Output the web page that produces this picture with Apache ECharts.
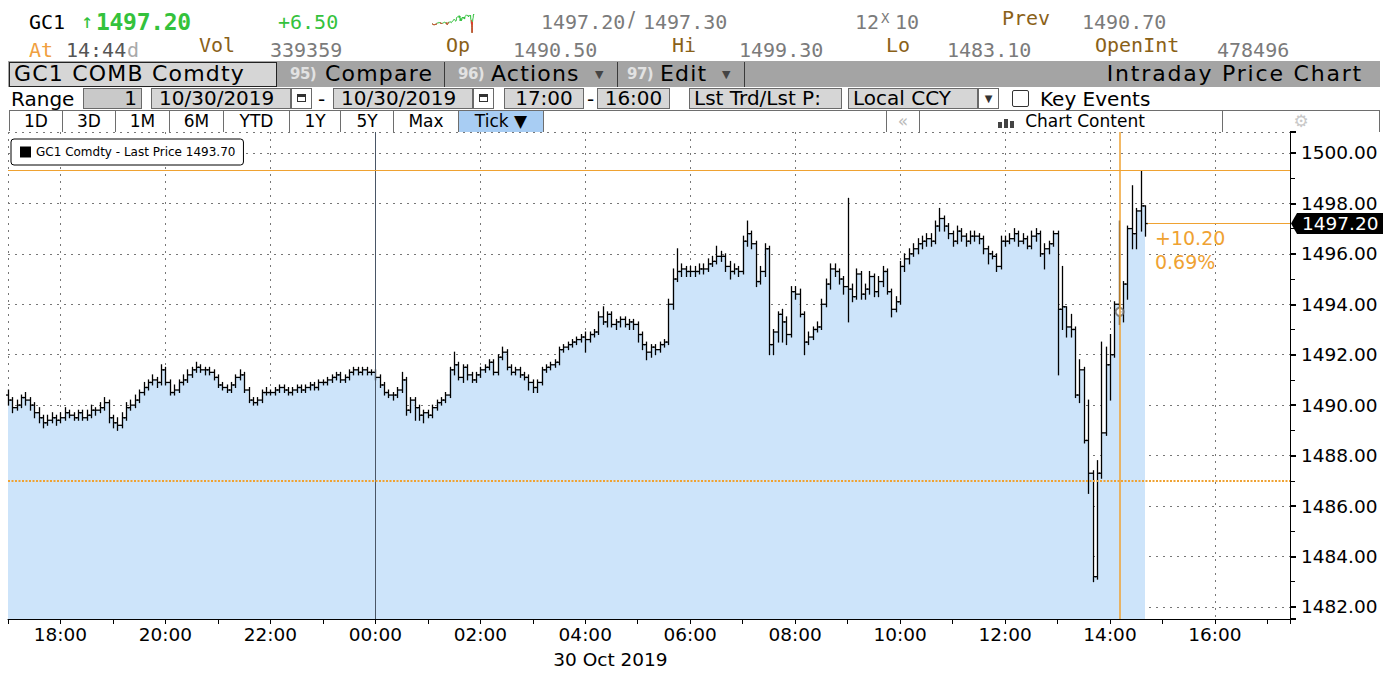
<!DOCTYPE html>
<html><head><meta charset="utf-8">
<script src="https://cdn.jsdelivr.net/npm/echarts@6/dist/echarts.min.js"></script>
<style>
html,body{margin:0;padding:0;background:#fff;width:1390px;height:673px;overflow:hidden;}
#chart{position:absolute;left:0;top:0;width:1390px;height:673px;}
#hdr{position:absolute;left:0;top:0;width:1390px;height:132px;pointer-events:none;}
.t{position:absolute;white-space:nowrap;line-height:1;}
.m{font-family:'DejaVu Sans Mono',monospace;font-size:20px;letter-spacing:0;}
.s{font-family:'DejaVu Sans',sans-serif;}
.g{color:#7b7b7b}
.b{color:#8a6118}
.gr{color:#34c23c}
.r3{font-family:'DejaVu Sans',sans-serif;font-size:22px;letter-spacing:1.2px;top:63px;color:#000;}
.num{font-family:'DejaVu Sans',sans-serif;font-size:15px;font-weight:bold;letter-spacing:-0.5px;color:#e2e2e2;top:67px;}
.sep{position:absolute;top:62px;width:1px;height:25px;background:#3a3a3a;}
.bx{position:absolute;top:88px;height:21px;box-sizing:border-box;border:1px solid #6a6a6a;background:#d6d6d6;font-family:'DejaVu Sans',sans-serif;font-size:20px;line-height:19px;color:#000;white-space:nowrap;}
.cal{position:absolute;top:88px;height:21px;width:21px;box-sizing:border-box;border:1px solid #6a6a6a;background:#fff;}
.cal i{position:absolute;left:5px;top:5px;width:9px;height:8px;border:1px solid #333;border-top-width:3px;box-sizing:border-box;}
.r4{font-family:'DejaVu Sans',sans-serif;font-size:20px;top:89px;color:#000;}
.tab{position:absolute;top:0;height:21px;box-sizing:border-box;border-right:1px solid #6e6e6e;font-family:'DejaVu Sans',sans-serif;font-size:17px;line-height:21px;text-align:center;color:#000;}
</style>
</head>
<body>
<div id="chart"></div>
<div id="hdr">
  <!-- row 1 -->
  <div class="t m" style="left:29px;top:12px;color:#000">GC1</div>
  <div class="t m gr" style="left:81px;top:11px;font-size:20px">↑</div>
  <div class="t m gr" style="left:96px;top:11px;font-size:23px;font-weight:bold;letter-spacing:-0.3px">1497.20</div>
  <div class="t m gr" style="left:278px;top:12px">+6.50</div>
  <div class="t m g" style="left:541px;top:12px">1497.20</div>
  <div class="t s g" style="left:628px;top:10px;font-size:21px">/</div>
  <div class="t m g" style="left:643px;top:12px">1497.30</div>
  <div class="t m g" style="left:855px;top:12px">12</div>
  <div class="t m g" style="left:881px;top:11px;font-size:14px">X</div>
  <div class="t m g" style="left:895px;top:12px">10</div>
  <div class="t m b" style="left:1002px;top:8px">Prev</div>
  <div class="t m g" style="left:1082px;top:12px">1490.70</div>
  <!-- row 2 -->
  <div class="t m" style="left:29px;top:40px;color:#f0a040">At</div>
  <div class="t m" style="left:66px;top:40px;color:#555">14:44</div>
  <div class="t m" style="left:127px;top:40px;color:#aaa">d</div>
  <div class="t m b" style="left:199px;top:35px">Vol</div>
  <div class="t m g" style="left:270px;top:40px">339359</div>
  <div class="t m b" style="left:446px;top:35px">Op</div>
  <div class="t m g" style="left:513px;top:40px">1490.50</div>
  <div class="t m b" style="left:672px;top:35px">Hi</div>
  <div class="t m g" style="left:739px;top:40px">1499.30</div>
  <div class="t m b" style="left:886px;top:35px">Lo</div>
  <div class="t m g" style="left:947px;top:40px">1483.10</div>
  <div class="t m b" style="left:1095px;top:35px">OpenInt</div>
  <div class="t m g" style="left:1217px;top:40px">478496</div>
  <!-- row 3 -->
  <div style="position:absolute;left:8px;top:61px;width:1372px;height:26px;background:#a4a4a4"></div>
  <div style="position:absolute;left:9px;top:62px;width:268px;height:25px;box-sizing:border-box;background:#d6d6d6;border:1px solid #222"></div>
  <div class="t r3" style="left:14px">GC1 COMB Comdty</div>
  <div class="t num" style="left:290px">95)</div>
  <div class="t r3" style="left:325px">Compare</div>
  <div class="sep" style="left:444px"></div>
  <div class="t num" style="left:458px">96)</div>
  <div class="t r3" style="left:491px">Actions</div>
  <div class="t s" style="left:595px;top:69px;font-size:11px;color:#444">▼</div>
  <div class="sep" style="left:617px"></div>
  <div class="t num" style="left:627px">97)</div>
  <div class="t r3" style="left:660px">Edit</div>
  <div class="t s" style="left:722px;top:69px;font-size:11px;color:#444">▼</div>
  <div class="sep" style="left:744px"></div>
  <div class="t r3" style="right:27px;letter-spacing:1.8px">Intraday Price Chart</div>
  <!-- row 4 -->
  <div class="t r4" style="left:11px">Range</div>
  <div class="bx" style="left:83px;width:59px;text-align:right;padding-right:4px;background:#c9c9c9">1</div>
  <div class="bx" style="left:151px;width:140px;padding-left:7px">10/30/2019</div>
  <div class="cal" style="left:291px"><i></i></div>
  <div class="t r4" style="left:318px">-</div>
  <div class="bx" style="left:333px;width:140px;padding-left:7px">10/30/2019</div>
  <div class="cal" style="left:473px"><i></i></div>
  <div class="bx" style="left:504px;width:80px;text-align:center">17:00</div>
  <div class="t r4" style="left:587px">-</div>
  <div class="bx" style="left:597px;width:73px;text-align:center">16:00</div>
  <div class="bx" style="left:689px;width:153px;padding-left:4px">Lst Trd/Lst P:</div>
  <div class="bx" style="left:848px;width:130px;padding-left:4px">Local CCY</div>
  <div class="bx" style="left:978px;width:21px;background:#fff;font-size:10px;text-align:center;color:#333">▼</div>
  <div style="position:absolute;left:1012px;top:90px;width:17px;height:17px;box-sizing:border-box;border:1.5px solid #333;border-radius:2px;background:#fff"></div>
  <div class="t r4" style="left:1040px">Key Events</div>
  <!-- row 5 -->
  <div style="position:absolute;left:9px;top:110px;width:1371px;height:21px;box-sizing:border-box;border-top:1px solid #6e6e6e;border-left:1px solid #6e6e6e;background:#fff">
    <div class="tab" style="left:0;width:53px">1D</div>
    <div class="tab" style="left:53px;width:53px">3D</div>
    <div class="tab" style="left:106px;width:54px">1M</div>
    <div class="tab" style="left:160px;width:54px">6M</div>
    <div class="tab" style="left:214px;width:66px">YTD</div>
    <div class="tab" style="left:280px;width:51px">1Y</div>
    <div class="tab" style="left:331px;width:53px">5Y</div>
    <div class="tab" style="left:384px;width:65px">Max</div>
    <div class="tab" style="left:449px;width:85px;background:#a8cdf3">Tick ▼</div>
    <div class="tab" style="left:534px;width:343px"></div>
    <div class="tab" style="left:877px;width:33px;color:#bbb">«</div>
    <div class="tab" style="left:910px;width:303px"><span style="display:inline-block;width:20px;height:14px;position:relative;vertical-align:-1px;margin-right:8px"><b style="position:absolute;left:1px;bottom:0;width:4px;height:6px;background:#444"></b><b style="position:absolute;left:7px;bottom:0;width:4px;height:9px;background:#444"></b><b style="position:absolute;left:13px;bottom:0;width:4px;height:7px;background:#444"></b></span>Chart Content</div>
    <div class="tab" style="left:1213px;width:157px;color:#c8c8c8">⚙</div>
  </div>
</div>
<script>
// ---------------- data ----------------
const startClock = '17:00';          // first bar, 29 Oct 2019
const barMinutes = 5;
const open = [
1490.4,1490.2,1489.9,1490.0,1490.3,1490.2,1490.0,1489.7,1489.5,1489.3,1489.4,1489.5,
1489.4,1489.5,1489.7,1489.6,1489.5,1489.7,1489.5,1489.6,1489.8,1489.8,1489.9,1490.1,
1489.5,1489.3,1489.2,1489.5,1489.9,1490.0,1490.2,1490.5,1490.7,1490.9,1491.0,1490.9,
1491.4,1490.9,1490.5,1490.6,1490.9,1491.0,1491.2,1491.4,1491.5,1491.4,1491.4,1491.3,
1491.1,1490.8,1490.7,1490.6,1490.8,1491.1,1491.2,1490.6,1490.2,1490.1,1490.2,1490.5,
1490.5,1490.5,1490.6,1490.7,1490.6,1490.5,1490.6,1490.7,1490.6,1490.7,1490.8,1490.7,
1490.9,1490.9,1491.0,1491.1,1491.2,1491.0,1491.1,1491.3,1491.4,1491.3,1491.4,1491.3,
1491.3,1491.1,1490.8,1490.5,1490.4,1490.4,1490.6,1491.0,1489.8,1490.2,1489.9,1489.6,
1489.7,1489.6,1489.9,1490.1,1490.2,1490.4,1491.4,1491.6,1491.1,1491.5,1491.2,1491.0,
1491.2,1491.4,1491.5,1491.7,1491.3,1491.9,1492.1,1491.5,1491.3,1491.4,1491.2,1491.1,
1490.9,1490.7,1490.9,1491.4,1491.5,1491.6,1491.7,1492.2,1492.3,1492.4,1492.5,1492.6,
1492.7,1492.6,1492.8,1492.9,1493.5,1493.3,1493.6,1493.2,1493.3,1493.4,1493.2,1493.3,
1493.2,1492.8,1492.4,1492.1,1492.3,1492.2,1492.4,1492.5,1494.0,1495.0,1495.3,1495.4,
1495.3,1495.3,1495.3,1495.4,1495.4,1495.6,1495.7,1495.9,1495.9,1495.5,1495.3,1495.4,
1495.3,1496.5,1496.8,1496.4,1494.9,1495.3,1496.2,1492.4,1492.9,1493.6,1493.3,1492.8,
1494.5,1494.4,1493.6,1492.5,1492.7,1493.0,1493.1,1494.0,1494.8,1495.4,1495.3,1495.0,
1494.7,1494.6,1494.3,1495.2,1494.4,1494.6,1495.1,1494.5,1494.9,1495.3,1494.5,1493.8,
1494.1,1495.5,1495.8,1496.0,1496.2,1496.4,1496.5,1496.6,1496.5,1497.1,1497.4,1497.1,
1496.8,1496.5,1496.9,1496.7,1496.5,1496.7,1496.7,1496.6,1496.2,1496.0,1495.9,1495.5,
1496.5,1496.5,1496.6,1496.8,1496.5,1496.6,1496.3,1496.7,1496.8,1496.0,1496.2,1496.4,
1496.8,1493.8,1493.9,1493.1,1493.0,1490.4,1491.4,1488.6,1487.3,1483.2,1487.3,1488.9,
1491.6,1492.0,1494.0,1493.7,1494.8,1497.0,1496.8,1497.7,1497.9
];
const high = [
1490.6,1490.3,1490.2,1490.4,1490.5,1490.3,1490.1,1489.9,1489.6,1489.6,1489.7,1489.6,
1489.7,1489.9,1489.8,1489.7,1489.8,1489.8,1489.8,1490.0,1489.9,1490.1,1490.3,1490.2,
1489.6,1489.5,1489.7,1490.1,1490.2,1490.4,1490.6,1490.9,1491.0,1491.2,1491.1,1491.6,
1491.5,1491.0,1490.8,1491.0,1491.2,1491.4,1491.5,1491.7,1491.6,1491.5,1491.5,1491.4,
1491.2,1490.9,1490.8,1490.9,1491.2,1491.4,1491.3,1490.7,1490.3,1490.3,1490.6,1490.7,
1490.6,1490.7,1490.8,1490.8,1490.7,1490.7,1490.8,1490.8,1490.8,1490.9,1490.9,1491.0,
1491.0,1491.1,1491.2,1491.3,1491.3,1491.2,1491.4,1491.5,1491.5,1491.5,1491.5,1491.4,
1491.4,1491.2,1490.9,1490.6,1490.5,1490.7,1491.3,1491.1,1490.3,1490.3,1490.0,1489.8,
1489.8,1490.0,1490.2,1490.3,1490.5,1491.5,1492.1,1491.7,1491.6,1491.6,1491.3,1491.3,
1491.5,1491.6,1491.8,1491.8,1492.0,1492.3,1492.2,1491.6,1491.5,1491.5,1491.3,1491.2,
1491.0,1491.0,1491.5,1491.6,1491.7,1491.8,1492.3,1492.4,1492.5,1492.6,1492.7,1492.8,
1492.9,1492.9,1493.0,1493.7,1493.9,1493.7,1493.7,1493.4,1493.5,1493.5,1493.4,1493.4,
1493.3,1492.9,1492.5,1492.4,1492.4,1492.5,1492.6,1494.2,1495.4,1496.2,1495.6,1495.5,
1495.5,1495.5,1495.6,1495.6,1495.8,1495.9,1496.3,1496.1,1496.0,1495.7,1495.6,1495.5,
1496.7,1497.3,1496.9,1496.5,1495.5,1496.4,1496.3,1493.0,1493.7,1493.8,1493.5,1494.7,
1494.7,1494.6,1493.7,1492.9,1493.1,1493.3,1494.2,1495.0,1495.6,1495.6,1495.4,1495.1,
1498.2,1494.8,1495.4,1495.3,1494.8,1495.3,1495.2,1495.1,1495.5,1495.4,1494.6,1494.3,
1495.7,1496.0,1496.2,1496.4,1496.6,1496.7,1496.8,1496.8,1497.3,1497.8,1497.5,1497.2,
1496.9,1497.1,1497.0,1496.8,1496.9,1496.9,1496.8,1496.7,1496.3,1496.1,1496.0,1496.7,
1496.7,1496.8,1497.0,1496.9,1496.8,1496.7,1496.9,1497.0,1496.9,1496.4,1496.5,1496.9,
1496.9,1495.5,1493.9,1493.6,1493.1,1491.8,1491.5,1490.2,1487.4,1487.8,1492.5,1492.3,
1492.8,1494.1,1497.3,1494.9,1497.1,1498.7,1497.8,1499.3,1497.9
];
const low = [
1490.0,1489.7,1489.8,1489.9,1490.0,1489.8,1489.5,1489.3,1489.1,1489.2,1489.3,1489.2,
1489.3,1489.4,1489.5,1489.4,1489.4,1489.4,1489.4,1489.5,1489.6,1489.7,1489.8,1489.3,
1489.1,1489.0,1489.1,1489.4,1489.8,1489.9,1490.1,1490.4,1490.6,1490.8,1490.7,1490.8,
1490.8,1490.4,1490.4,1490.5,1490.8,1490.9,1491.1,1491.3,1491.3,1491.2,1491.2,1491.0,
1490.7,1490.6,1490.5,1490.5,1490.7,1491.0,1490.5,1490.1,1490.0,1490.0,1490.1,1490.4,
1490.4,1490.4,1490.5,1490.5,1490.4,1490.4,1490.5,1490.5,1490.5,1490.6,1490.6,1490.6,
1490.8,1490.8,1490.9,1491.0,1490.9,1490.9,1491.0,1491.2,1491.2,1491.2,1491.2,1491.2,
1491.0,1490.7,1490.4,1490.3,1490.2,1490.3,1490.5,1489.6,1489.7,1489.4,1489.4,1489.3,
1489.5,1489.5,1489.8,1490.0,1490.1,1490.3,1491.2,1491.0,1490.9,1491.0,1490.9,1490.9,
1491.1,1491.3,1491.4,1491.2,1491.2,1491.8,1491.4,1491.2,1491.2,1491.1,1491.0,1490.6,
1490.5,1490.5,1490.8,1491.3,1491.4,1491.5,1491.6,1492.1,1492.2,1492.3,1492.4,1492.5,
1492.1,1492.5,1492.7,1492.8,1493.2,1493.1,1493.1,1493.0,1493.1,1493.1,1493.0,1493.0,
1492.5,1492.2,1491.8,1491.9,1492.0,1492.1,1492.3,1492.4,1493.8,1494.9,1495.1,1495.1,
1495.1,1495.1,1495.2,1495.2,1495.3,1495.5,1495.6,1495.7,1495.3,1495.0,1495.2,1495.1,
1495.2,1496.3,1496.2,1494.7,1494.8,1495.1,1492.0,1492.0,1492.5,1492.5,1492.4,1492.7,
1494.2,1493.5,1492.0,1492.4,1492.6,1492.9,1493.0,1493.9,1494.6,1495.1,1494.8,1494.4,
1493.3,1494.1,1494.2,1494.2,1494.2,1494.4,1494.3,1494.3,1494.7,1494.4,1493.5,1493.7,
1494.0,1495.3,1495.6,1495.9,1496.0,1496.2,1496.3,1496.3,1496.4,1496.9,1496.9,1496.6,
1496.3,1496.4,1496.5,1496.3,1496.4,1496.5,1496.4,1496.0,1495.6,1495.8,1495.3,1495.4,
1496.3,1496.4,1496.5,1496.3,1496.4,1496.2,1496.2,1496.5,1495.9,1495.4,1496.0,1496.3,
1491.2,1493.0,1492.7,1492.7,1490.3,1490.1,1488.5,1486.5,1483.0,1483.1,1487.1,1488.8,
1490.2,1491.9,1493.2,1493.3,1494.2,1496.2,1496.2,1496.9,1496.7
];
const close = [
1490.2,1489.9,1490.0,1490.3,1490.2,1490.0,1489.7,1489.5,1489.3,1489.4,1489.5,1489.4,
1489.5,1489.7,1489.6,1489.5,1489.7,1489.5,1489.6,1489.8,1489.8,1489.9,1490.1,1489.5,
1489.3,1489.2,1489.5,1489.9,1490.0,1490.2,1490.5,1490.7,1490.9,1491.0,1490.9,1491.4,
1490.9,1490.5,1490.6,1490.9,1491.0,1491.2,1491.4,1491.5,1491.4,1491.4,1491.3,1491.1,
1490.8,1490.7,1490.6,1490.8,1491.1,1491.2,1490.6,1490.2,1490.1,1490.2,1490.5,1490.5,
1490.5,1490.6,1490.7,1490.6,1490.5,1490.6,1490.7,1490.6,1490.7,1490.8,1490.7,1490.9,
1490.9,1491.0,1491.1,1491.2,1491.0,1491.1,1491.3,1491.4,1491.3,1491.4,1491.3,1491.3,
1491.1,1490.8,1490.5,1490.4,1490.4,1490.6,1491.0,1489.8,1490.2,1489.9,1489.6,1489.7,
1489.6,1489.9,1490.1,1490.2,1490.4,1491.4,1491.6,1491.1,1491.5,1491.2,1491.0,1491.2,
1491.4,1491.5,1491.7,1491.3,1491.9,1492.1,1491.5,1491.3,1491.4,1491.2,1491.1,1490.9,
1490.7,1490.9,1491.4,1491.5,1491.6,1491.7,1492.2,1492.3,1492.4,1492.5,1492.6,1492.7,
1492.6,1492.8,1492.9,1493.5,1493.3,1493.6,1493.2,1493.3,1493.4,1493.2,1493.3,1493.2,
1492.8,1492.4,1492.1,1492.3,1492.2,1492.4,1492.5,1494.0,1495.0,1495.3,1495.4,1495.3,
1495.3,1495.3,1495.4,1495.4,1495.6,1495.7,1495.9,1495.9,1495.5,1495.3,1495.4,1495.3,
1496.5,1496.8,1496.4,1494.9,1495.3,1496.2,1492.4,1492.9,1493.6,1493.3,1492.8,1494.5,
1494.4,1493.6,1492.5,1492.7,1493.0,1493.1,1494.0,1494.8,1495.4,1495.3,1495.0,1494.7,
1494.6,1494.3,1495.2,1494.4,1494.6,1495.1,1494.5,1494.9,1495.3,1494.5,1493.8,1494.1,
1495.5,1495.8,1496.0,1496.2,1496.4,1496.5,1496.6,1496.5,1497.1,1497.4,1497.1,1496.8,
1496.5,1496.9,1496.7,1496.5,1496.7,1496.7,1496.6,1496.2,1496.0,1495.9,1495.5,1496.5,
1496.5,1496.6,1496.8,1496.5,1496.6,1496.3,1496.7,1496.8,1496.0,1496.2,1496.4,1496.8,
1493.8,1493.9,1493.1,1493.0,1490.4,1491.4,1488.6,1487.3,1483.2,1487.3,1488.9,1491.6,
1492.0,1494.0,1493.7,1494.8,1497.0,1496.8,1497.7,1497.9,1497.2
];
const xTickLabels = ['18:00','20:00','22:00','00:00','02:00','04:00','06:00','08:00','10:00','12:00','14:00','16:00'];
const dateLabel = '30 Oct 2019';
const legendName = 'GC1 Comdty - Last Price 1493.70';
const prevClose = 1490.70;
const dayHigh = 1499.30;
const refPrice = 1487.00;
const lastPrice = 1497.20;
const changeText = ['+10.20', '0.69%'];
const cursorTime = ['14:11', 1493.70];
const sessionBreak = '00:00';

// ---------------- helpers ----------------
// x coordinate = hours after 16:00 on 29 Oct 2019
function clockToX(s, nextDay) {
  const [h, m] = s.split(':').map(Number);
  let v = h + m / 60 - 16;
  if (nextDay || v < 0) v += 24;
  return v;
}
const X_MIN = clockToX(startClock);
const X_MAX = 25.43;
const Y_MIN = 1481.52, Y_MAX = 1500.83;
const times = close.map((_, i) => X_MIN + i * barMinutes / 60);
const ohlc = times.map((t, i) => [t, open[i], high[i], low[i], close[i]]);
const closeLine = times.map((t, i) => [t, close[i]]);
// sparkline: part below previous close drawn red
const sparkRed = times.map((t, i) => {
  const below = close[i] < prevClose || (i > 0 && close[i - 1] < prevClose) || (i < close.length - 1 && close[i + 1] < prevClose);
  return [t, below ? close[i] : null];
});
const lastT = times[times.length - 1];
const cursorX = clockToX(cursorTime[0], true);
const breakX = clockToX(sessionBreak, true);

const FONT = "'DejaVu Sans', sans-serif";
const ORANGE = '#efa232';
const chart = echarts.init(document.getElementById('chart'), null, {renderer: 'svg'});

function fmtX(v) {
  const r = Math.round(v);
  if (Math.abs(v - r) > 1e-6 || r % 2 !== 0) return '';
  const idx = (r - 2) / 2;
  return (idx >= 0 && idx < xTickLabels.length) ? xTickLabels[idx] : '';
}
function fmtY(v) {
  const r = Math.round(v);
  if (Math.abs(v - r) > 1e-6 || r % 2 !== 0) return '';
  return r.toFixed(2);
}

const option = {
  animation: false,
  backgroundColor: '#fff',
  grid: [
    {left: 8, right: 100, top: 132, bottom: 54},
    {left: 432, top: 12, width: 42, height: 21}
  ],
  legend: {
    left: 11, top: 139,
    data: [{name: legendName, icon: 'rect'}],
    itemWidth: 11, itemHeight: 11,
    padding: [7, 8, 7, 9],
    backgroundColor: '#fff', borderColor: '#000', borderWidth: 1, borderRadius: 3,
    textStyle: {fontFamily: FONT, fontSize: 12, color: '#000'},
    selectedMode: false
  },
  xAxis: [{
    type: 'value', min: X_MIN, max: X_MAX, minInterval: 2, maxInterval: 2, splitNumber: 12,
    axisLine: {show: true, lineStyle: {color: '#000', width: 1}},
    axisTick: {show: true, length: 5, lineStyle: {color: '#000'}},
    minorTick: {show: true, splitNumber: 2, length: 5, lineStyle: {color: '#000'}},
    axisLabel: {margin: 6, fontSize: 18.5, color: '#000', fontFamily: FONT, formatter: fmtX},
    splitLine: {show: true, lineStyle: {color: '#777', type: [2, 5], width: 1}}
  }, {
    gridIndex: 1, type: 'value', min: X_MIN, max: lastT, show: false
  }],
  yAxis: [{
    type: 'value', position: 'right', min: Y_MIN, max: Y_MAX, minInterval: 2, maxInterval: 2, splitNumber: 10,
    axisLine: {show: true, lineStyle: {color: '#000', width: 1}},
    axisTick: {show: true, length: 6, lineStyle: {color: '#000', width: 2}},
    minorTick: {show: true, splitNumber: 2, length: 5, lineStyle: {color: '#000', width: 1}},
    axisLabel: {margin: 11, fontSize: 18.5, color: '#000', fontFamily: FONT, formatter: fmtY},
    splitLine: {show: true, lineStyle: {color: '#777', type: [2, 5], width: 1}}
  }, {
    gridIndex: 1, type: 'value', min: 1483, max: 1499.3, show: false
  }],
  series: [
    {
      name: 'area', type: 'line', data: closeLine, step: 'end', showSymbol: false, z: 1,
      lineStyle: {width: 0, opacity: 0},
      areaStyle: {color: '#cde4fa', opacity: 1, origin: 'start'},
      silent: true,
      markLine: {
        silent: true, symbol: 'none', label: {show: false}, animation: false,
        data: [
          {xAxis: breakX, lineStyle: {color: '#4a5666', width: 1, type: 'solid'}},
          {yAxis: dayHigh, lineStyle: {color: ORANGE, width: 1, type: 'solid'}},
          {yAxis: refPrice, lineStyle: {color: ORANGE, width: 2, type: [2, 1.5]}},
          {xAxis: cursorX, lineStyle: {color: ORANGE, width: 1.5, type: 'solid'}},
          [{coord: [lastT + 0.05, lastPrice], lineStyle: {color: ORANGE, width: 1.2, type: 'solid'}}, {coord: [X_MAX, lastPrice]}]
        ]
      }
    },
    {
      name: legendName, type: 'custom', data: ohlc, z: 3,
      itemStyle: {color: '#000'},
      encode: {x: 0, y: [1, 2, 3, 4]},
      renderItem: function (params, api) {
        const t = api.value(0);
        const pO = api.coord([t, api.value(1)]);
        const pH = api.coord([t, api.value(2)]);
        const pL = api.coord([t, api.value(3)]);
        const pC = api.coord([t, api.value(4)]);
        const x = Math.round(pO[0]) + 0.5;
        const st = {stroke: '#000', lineWidth: 1.3};
        return {type: 'group', children: [
          {type: 'line', shape: {x1: x, y1: pH[1] - 0.5, x2: x, y2: pL[1] + 0.5}, style: st},
          {type: 'line', shape: {x1: x - 2.5, y1: pO[1], x2: x, y2: pO[1]}, style: st},
          {type: 'line', shape: {x1: x, y1: pC[1], x2: x + 2.5, y2: pC[1]}, style: st}
        ]};
      }
    },
    {
      name: 'cursor', type: 'scatter', z: 4, silent: true,
      data: [[cursorX, cursorTime[1]]],
      symbol: 'emptyCircle', symbolSize: 8,
      itemStyle: {color: '#666', borderWidth: 1.5}
    },
    {
      name: 'spark', type: 'line', xAxisIndex: 1, yAxisIndex: 1, data: closeLine,
      showSymbol: false, lineStyle: {width: 1, color: '#2fbf3a'}, itemStyle: {color: '#2fbf3a'}, silent: true
    },
    {
      name: 'sparkRed', type: 'line', xAxisIndex: 1, yAxisIndex: 1, data: sparkRed,
      showSymbol: false, connectNulls: false, lineStyle: {width: 1, color: '#e23b2e'}, itemStyle: {color: '#e23b2e'}, silent: true, z: 3
    }
  ]
};
chart.setOption(option);

// annotations positioned from the axis scales
function px(finder, v) {
  try { return chart.convertToPixel(finder, v); } catch (e) { return null; }
}
const yLast = px({yAxisIndex: 0}, lastPrice);
const xLastBar = px({xAxisIndex: 0}, lastT);
const xAxisRight = px({xAxisIndex: 0}, X_MAX);
const xDate = px({xAxisIndex: 0}, clockToX('04:00', true));
const yAxisBottom = px({yAxisIndex: 0}, Y_MIN);
chart.setOption({
  graphic: [
    {
      type: 'polygon', z: 100,
      shape: {points: [[xAxisRight + 1, yLast], [xAxisRight + 7, yLast - 10.5], [xAxisRight + 93, yLast - 10.5], [xAxisRight + 93, yLast + 10.5], [xAxisRight + 7, yLast + 10.5]]},
      style: {fill: '#000'}
    },
    {
      type: 'text', z: 101, x: xAxisRight + 12, y: yLast,
      style: {text: lastPrice.toFixed(2), fill: '#fff', font: '18.5px ' + FONT, verticalAlign: 'middle'}
    },
    {
      type: 'text', z: 101, x: xLastBar + 10, y: yLast + 14,
      style: {text: changeText[0], fill: ORANGE, font: '19px ' + FONT, verticalAlign: 'middle'}
    },
    {
      type: 'text', z: 101, x: xLastBar + 10, y: yLast + 38,
      style: {text: changeText[1], fill: ORANGE, font: '19px ' + FONT, verticalAlign: 'middle'}
    },
    {
      type: 'text', z: 101, x: xDate - 32, y: yAxisBottom + 40,
      style: {text: dateLabel, fill: '#000', font: '18.5px ' + FONT, verticalAlign: 'middle'}
    }
  ]
});
</script>
</body></html>
